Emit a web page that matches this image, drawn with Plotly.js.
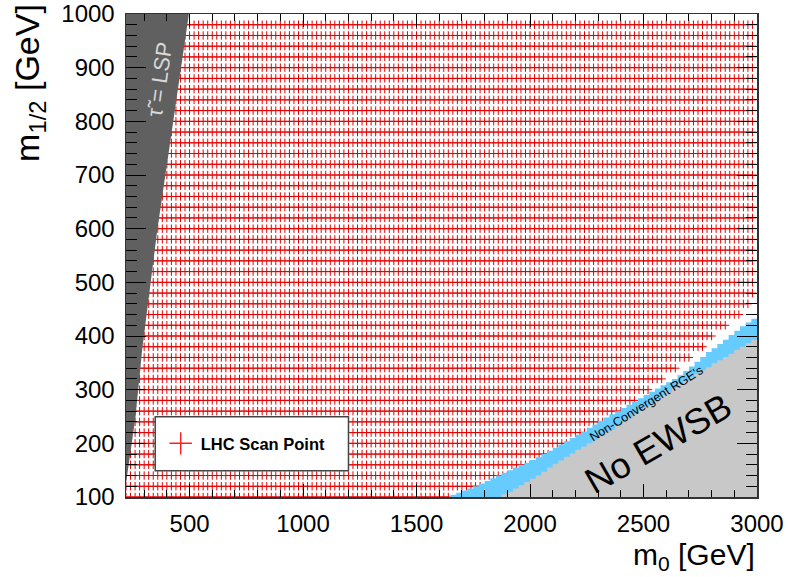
<!DOCTYPE html>
<html>
<head>
<meta charset="utf-8">
<script src="https://cdn.plot.ly/plotly-3.0.1.min.js"></script>
<style>html,body{margin:0;padding:0;background:#fff;}#chart{width:788px;height:577px;}</style>
</head>
<body>
<div id="chart"></div>
<script>
// m1/2 values of the scan rows (GeV)
const scanM12 = [100,120,140,160,180,200,220,240,260,280,300,320,340,360,380,400,420,440,460,480,
  500,520,540,560,580,600,620,640,660,680,700,720,740,760,780,800,820,840,860,880,900,920,940,960,980];
// m0 values of the scan columns (GeV)
const scanM0 = [220,240,260,280,300,320,340,360,380,400,420,440,460,480,500,520,540,560,580,600,
  620,640,660,680,700,720,740,760,780,800,820,840,860,880,900,920,940,960,980,1000,
  1020,1040,1060,1080,1100,1120,1140,1160,1180,1200,1220,1240,1260,1280,1300,1320,1340,1360,1380,1400,
  1420,1440,1460,1480,1500,1520,1540,1560,1580,1600,1620,1640,1660,1680,1700,1720,1740,1760,1780,1800,
  1820,1840,1860,1880,1900,1920,1940,1960,1980,2000,2020,2040,2060,2080,2100,2120,2140,2160,2180,2200,
  2220,2240,2260,2280,2300,2320,2340,2360,2380,2400,2420,2440,2460,2480,2500,2520,2540,2560,2580,2600,
  2620,2640,2660,2680,2700,2720,2740,2760,2780,2800,2820,2840,2860,2880,2900,2920,2940,2960,2980];
// largest m0 scanned in each row (GeV)
const rowMaxM0 = [1640,1780,1920,2000,2080,2160,2260,2320,2400,2460,2520,2580,2640,2700,2760,2800,2860,2920,2960,
  3000,3000,3000,3000,3000,3000,3000,3000,3000,3000,3000,3000,3000,3000,3000,3000,3000,3000,3000,3000,3000,3000,3000,3000,3000,3000];

// stau LSP excluded region (m0, m1/2)
const stauM0  = [220,232,245,262,291,358,412,497,220];
const stauM12 = [125,160,200,250,374,598,753,1000,1000];

// Non-convergent RGE band, upper edge (m0, m1/2)
const rgeM0  = [1650,1675,1700,1725,1750,1775,1800,1825,1850,1875,1900,1925,1950,1975,2000,2025,2050,2075,2100,2125,
  2150,2175,2200,2225,2250,2275,2300,2325,2350,2375,2400,2425,2450,2475,2500,2525,2550,2575,2600,2625,
  2650,2675,2700,2725,2750,2775,2800,2825,2850,2875,2900,2925,2950,2975,3000,3000];
const rgeM12 = [100,104,108,112,116,120,125,130,135,140,145,150,155,160,164,169,174,180,186,192,
  198,204,210,216,222,229,235,242,248,254,260,266,272,278,284,290,296,302,308,314,
  320,327,335,343,352,361,370,377,385,393,402,410,418,425,432,100];

// No EWSB region, upper edge (m0, m1/2)
const ewsbM0  = [1850,1875,1900,1925,1950,1975,2000,2025,2050,2075,2100,2125,2150,2175,2200,2225,2250,2275,2300,2325,
  2350,2375,2400,2425,2450,2475,2500,2525,2550,2575,2600,2625,2650,2675,2700,2725,2750,2775,2800,2825,
  2850,2875,2900,2925,2950,2975,3000,3000];
const ewsbM12 = [100,105,110,116,122,128,134,140,147,155,162,168,175,181,188,194,200,206,213,220,
  226,233,240,247,254,261,268,275,282,289,296,303,310,316,323,329,336,342,349,355,
  361,367,374,380,387,393,400,100];

const gx = [], gy = [];
scanM12.forEach((m12, i) => {
  scanM0.forEach(m0 => { if (m0 <= rowMaxM0[i]) { gx.push(m0); gy.push(m12); } });
});

const FONT = 'Liberation Sans, Arial, Helvetica, sans-serif';

const traces = [
  {type:'scatter', mode:'markers', x:gx, y:gy, showlegend:false, hoverinfo:'skip',
   marker:{symbol:'cross-thin-open', size:6, color:'#e00000', line:{width:1, color:'#e00000'}}},
  {type:'scatter', mode:'lines', x:rgeM0, y:rgeM12, fill:'toself', fillcolor:'#66ccff',
   line:{width:0, shape:'vh'}, showlegend:false, hoverinfo:'skip'},
  {type:'scatter', mode:'lines', x:ewsbM0, y:ewsbM12, fill:'toself', fillcolor:'#c8c8c8',
   line:{width:0, shape:'hv'}, showlegend:false, hoverinfo:'skip'},
  {type:'scatter', mode:'lines', x:stauM0, y:stauM12, fill:'toself', fillcolor:'#606060',
   line:{width:0}, showlegend:false, hoverinfo:'skip'},
  {type:'scatter', mode:'markers', x:[null], y:[null], name:'LHC Scan Point', showlegend:true,
   marker:{symbol:'cross-thin-open', size:16, color:'#ff2020', line:{width:1.5, color:'#ff2020'}}}
];

const axisCommon = {
  showgrid:false, zeroline:false, ticks:'inside', tickcolor:'#000', tickwidth:1,
  mirror:'allticks', showline:true, linecolor:'#333', linewidth:1.5,
  tickfont:{family:FONT, size:24, color:'#000'}, ticklabelstandoff:5
};

const layout = {
  width:788, height:577,
  margin:{l:126, r:31, t:14, b:80, pad:0},
  paper_bgcolor:'#fff', plot_bgcolor:'#fff',
  font:{family:FONT, color:'#000'},
  xaxis:Object.assign({}, axisCommon, {range:[220,3000], tick0:0, dtick:500, ticklen:13,
    minor:{dtick:100, ticklen:7, ticks:'inside', tickcolor:'#000', showgrid:false}}),
  yaxis:Object.assign({}, axisCommon, {range:[100,1000], tick0:0, dtick:100, ticklen:20,
    minor:{dtick:20, ticklen:11, ticks:'inside', tickcolor:'#000', showgrid:false}}),
  showlegend:true,
  legend:{x:0.055, y:0.1105, xanchor:'left', yanchor:'middle', bgcolor:'rgba(0,0,0,0)', borderwidth:0,
    font:{family:FONT, size:16.5, color:'#000', weight:'bold'}},
  shapes:[{type:'rect', xref:'paper', yref:'paper', x0:0.0463, x1:0.3526, y0:0.0545, y1:0.1664,
    fillcolor:'#fff', line:{color:'#444', width:1.5}, layer:'above'}],
  annotations:[
    {x:368, y:878, xref:'x', yref:'y', text:'τ\u0303 = LSP', textangle:-82, showarrow:false,
     font:{family:FONT, size:22, color:'#d8d8d8'}},
    {x:2564, y:200, xref:'x', yref:'y', text:'No EWSB', textangle:-30, showarrow:false,
     font:{family:FONT, size:36, color:'#000'}},
    {x:2511, y:273, xref:'x', yref:'y', text:"Non-Convergent RGE's", textangle:-32, showarrow:false,
     font:{family:FONT, size:12.5, color:'#000'}},
    {x:1, y:-0.1656, xref:'paper', yref:'paper', xanchor:'right', yanchor:'bottom', showarrow:false,
     text:'m<sub>0</sub> [GeV]', font:{family:FONT, size:30, color:'#000'}},
    {x:-0.153, y:1.026, xref:'paper', yref:'paper', xanchor:'center', yanchor:'top', showarrow:false,
     textangle:-90, text:'m<sub>1/2</sub> [GeV]', font:{family:FONT, size:34, color:'#000'}}
  ]
};

Plotly.newPlot('chart', traces, layout, {displayModeBar:false, staticPlot:true});
</script>
</body>
</html>
